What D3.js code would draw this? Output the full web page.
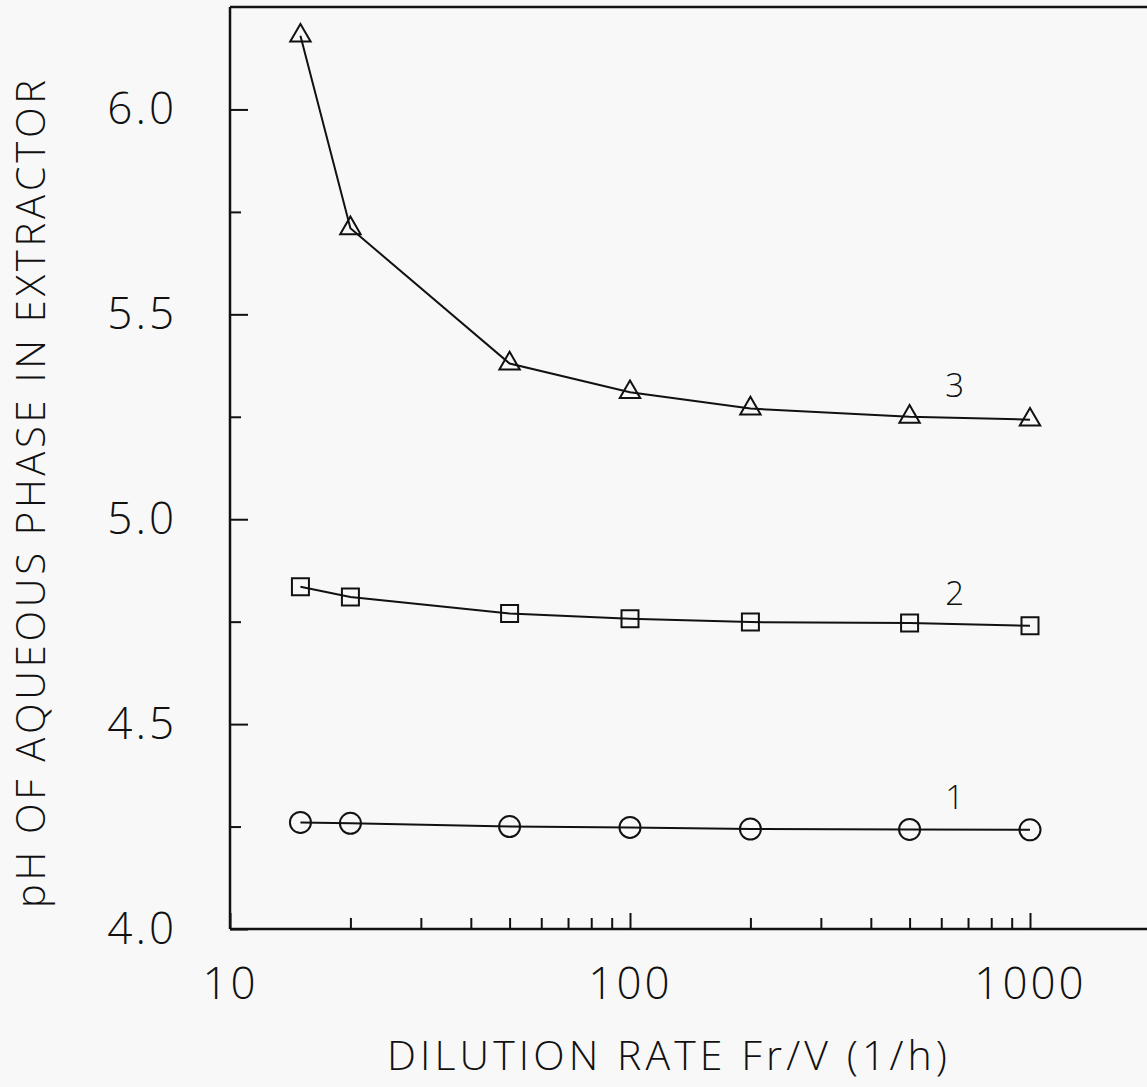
<!DOCTYPE html>
<html>
<head>
<meta charset="utf-8">
<script src="https://cdn.jsdelivr.net/npm/d3@7"></script>
<style>
  html, body { margin: 0; padding: 0; background: #f8f8f8; }
  svg { display: block; }
</style>
</head>
<body>
<svg id="chart" width="1147" height="1087"></svg>
<script>
// Dilution rate (1/h) at which each run was made
const dilution = [15, 20, 50, 100, 200, 500, 1000];
// pH of the aqueous phase, one array per curve
const ph1 = [4.26, 4.258, 4.25, 4.248, 4.244, 4.243, 4.242];
const ph2 = [4.835, 4.81, 4.77, 4.757, 4.749, 4.747, 4.74];
const ph3 = [6.18, 5.71, 5.38, 5.31, 5.27, 5.25, 5.243];
const curveNames = ["1", "2", "3"];

// Axis ticks and labels
const xMajorTicks = [10, 100, 1000];
const xTickLabels = ["10", "100", "1000"];
const xMinorTicks = [20, 30, 40, 50, 60, 70, 80, 90, 200, 300, 400, 500, 600, 700, 800, 900];
const yMajorTicks = [4.0, 4.5, 5.0, 5.5, 6.0];
const yTickLabels = ["4.0", "4.5", "5.0", "5.5", "6.0"];
const yMinorTicks = [4.25, 4.75, 5.25, 5.75];

const xTitle = "DILUTION RATE Fr/V (1/h)";
const yTitle = "pH OF AQUEOUS PHASE IN EXTRACTOR";

const svg = d3.select("#chart");
const W = 1147, H = 1087;
const plotLeft = 230, plotBottom = 929, plotTop = 7;

const x = d3.scaleLog().domain([10, Math.pow(10, 3.5)]).range([plotLeft, plotLeft + 1000]);
const y = d3.scaleLinear().domain([4.0, 6.25]).range([plotBottom, plotTop]);

const ink = "#111";
const numFont = "'Open Sans', 'Noto Sans', sans-serif";
const titleFont = "'Open Sans', 'Noto Sans', sans-serif";

// frame: top edge (the right edge lies past the page)
svg.append("line").attr("x1", plotLeft).attr("x2", W).attr("y1", plotTop).attr("y2", plotTop)
  .attr("stroke", ink).attr("stroke-width", 2.5);

// bottom axis
const gxMinor = svg.append("g").attr("transform", `translate(0,${plotBottom})`)
  .call(d3.axisBottom(x).tickValues(xMinorTicks).tickSize(-11).tickFormat(""));
const gx = svg.append("g").attr("transform", `translate(0,${plotBottom})`)
  .call(d3.axisBottom(x).tickValues(xMajorTicks).tickSize(-16).tickPadding(39)
    .tickFormat((d, i) => xTickLabels[i]));

// left axis
const gyMinor = svg.append("g").attr("transform", `translate(${plotLeft},0)`)
  .call(d3.axisLeft(y).tickValues(yMinorTicks).tickSize(-11).tickFormat(""));
const gy = svg.append("g").attr("transform", `translate(${plotLeft},0)`)
  .call(d3.axisLeft(y).tickValues(yMajorTicks).tickSize(-18).tickPadding(53)
    .tickFormat((d, i) => yTickLabels[i]));

[gxMinor, gx, gyMinor, gy].forEach(g => {
  g.select(".domain").attr("stroke", ink).attr("stroke-width", 2.5);
  g.selectAll(".tick line").attr("stroke", ink).attr("stroke-width", 2);
});
gx.select(".domain").attr("d", `M${plotLeft},0H${W}`);
gy.select(".domain").attr("d", `M0,${plotBottom}V${plotTop}`);
gxMinor.select(".domain").remove();
gyMinor.select(".domain").remove();

[gx, gy].forEach(g => g.selectAll(".tick text")
  .attr("fill", ink)
  .style("font-family", numFont)
  .style("font-weight", 300)
  .style("font-size", "44px")
  .style("letter-spacing", "3px"));

// axis titles
svg.append("text")
  .attr("x", 667).attr("y", 1070)
  .attr("text-anchor", "middle")
  .attr("textLength", 560).attr("lengthAdjust", "spacing")
  .style("font-family", titleFont)
  .style("font-weight", 300)
  .style("font-size", "41px")
  .attr("fill", ink)
  .text(xTitle);

svg.append("text")
  .attr("transform", "translate(45,494) rotate(-90)")
  .attr("text-anchor", "middle")
  .attr("textLength", 828).attr("lengthAdjust", "spacing")
  .style("font-family", titleFont)
  .style("font-weight", 300)
  .style("font-size", "40px")
  .attr("fill", ink)
  .text(yTitle);

// curves
const series = [
  { name: curveNames[0], values: ph1, symbol: "circle" },
  { name: curveNames[1], values: ph2, symbol: "square" },
  { name: curveNames[2], values: ph3, symbol: "triangle" }
];

const line = d3.line()
  .x(d => x(d[0]))
  .y(d => y(d[1]));

const symbolPath = {
  circle: d3.symbol().type(d3.symbolCircle).size(Math.PI * 10.5 * 10.5)(),
  square: d3.symbol().type(d3.symbolSquare).size(17 * 17)(),
  triangle: d3.symbol().type(d3.symbolTriangle).size(180)()
};

series.forEach(s => {
  const pts = dilution.map((d, i) => [d, s.values[i]]);
  svg.append("path")
    .attr("d", line(pts))
    .attr("fill", "none")
    .attr("stroke", ink)
    .attr("stroke-width", 2);
  svg.append("g").selectAll("path")
    .data(pts)
    .join("path")
    .attr("transform", d => `translate(${x(d[0])},${y(d[1])})`)
    .attr("d", symbolPath[s.symbol])
    .attr("fill", "none")
    .attr("stroke", ink)
    .attr("stroke-width", 2);
});

// curve numbers, placed above the 500 1/h points
const labelGap = { "1": 20, "2": 18, "3": 20 };
series.forEach(s => {
  const v = s.values[dilution.indexOf(500)];
  svg.append("text")
    .attr("x", x(500) + 45)
    .attr("y", y(v) - labelGap[s.name])
    .attr("text-anchor", "middle")
    .style("font-family", numFont)
    .style("font-weight", 300)
    .style("font-size", "33px")
    .attr("fill", ink)
    .text(s.name);
});
</script>
</body>
</html>
